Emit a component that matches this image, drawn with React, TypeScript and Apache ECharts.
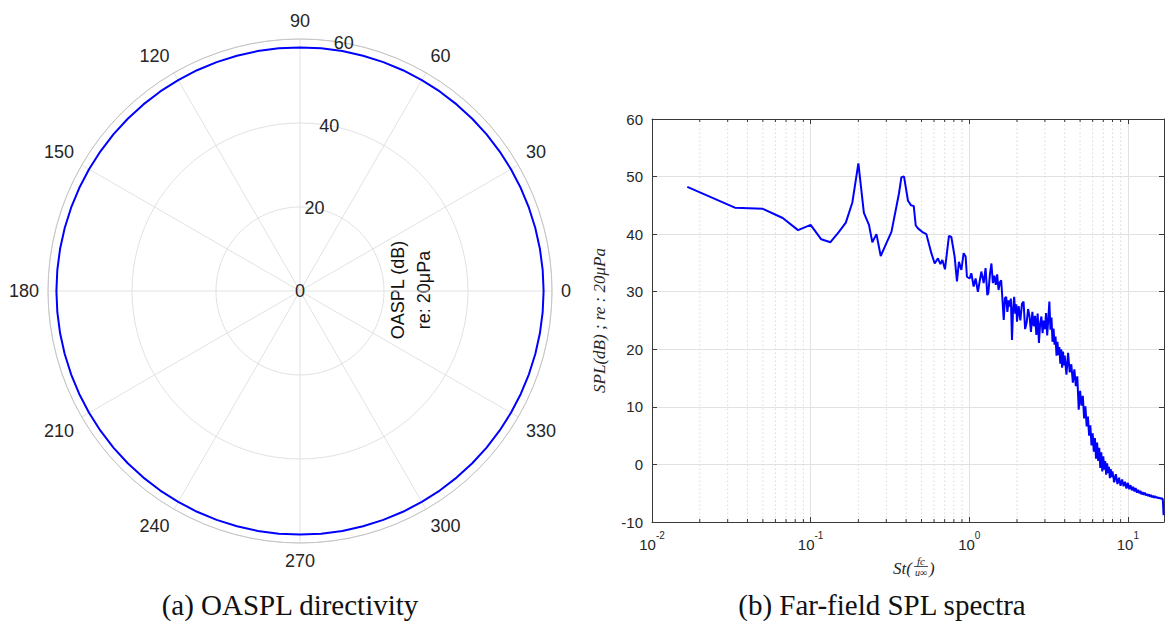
import React, { useEffect, useRef } from 'react';
import * as echarts from 'echarts';

// ---------- (a) OASPL directivity ----------
const polarAngles = [
  0, 5, 10, 15, 20, 25, 30, 35, 40, 45, 50, 55, 60, 65, 70, 75, 80, 85, 90,
  95, 100, 105, 110, 115, 120, 125, 130, 135, 140, 145, 150, 155, 160, 165, 170, 175, 180,
  185, 190, 195, 200, 205, 210, 215, 220, 225, 230, 235, 240, 245, 250, 255, 260, 265, 270,
  275, 280, 285, 290, 295, 300, 305, 310, 315, 320, 325, 330, 335, 340, 345, 350, 355, 360,
];
const oasplValues = [
  58.0, 58.0, 58.0, 58.0, 58.0, 58.0, 58.0, 58.0, 58.0, 58.0, 58.0, 58.0, 58.0, 58.0, 58.0, 58.0, 58.0, 58.0, 58.0,
  58.0, 58.0, 58.0, 58.0, 58.0, 58.0, 58.0, 58.0, 58.0, 58.0, 58.0, 58.0, 58.0, 58.0, 58.0, 58.0, 58.0, 58.0,
  58.0, 58.0, 58.0, 58.0, 58.0, 58.0, 58.0, 58.0, 58.0, 58.0, 58.0, 58.0, 58.0, 58.0, 58.0, 58.0, 58.0, 58.0,
  58.0, 58.0, 58.0, 58.0, 58.0, 58.0, 58.0, 58.0, 58.0, 58.0, 58.0, 58.0, 58.0, 58.0, 58.0, 58.0, 58.0, 58.0,
];

// ---------- (b) Far-field SPL spectra ----------
const spectrumLow: [number, number][] = [
  [0.0167, 48.2], [0.0333, 44.6], [0.05, 44.4], [0.0667, 42.8], [0.0833, 40.7], [0.1, 41.6],
  [0.1167, 39.1], [0.1333, 38.6], [0.15, 40.3], [0.1667, 42.0], [0.1833, 45.5], [0.2, 52.3],
  [0.2167, 43.7], [0.2333, 41.6], [0.245, 38.6], [0.26, 40.0], [0.2767, 36.2], [0.3, 38.4],
  [0.3233, 40.4], [0.3475, 44.8], [0.3608, 47.1], [0.3736, 49.9], [0.388, 50.0], [0.4111, 45.8],
  [0.43, 45.0], [0.4467, 44.9], [0.46, 41.5], [0.4753, 41.0], [0.511, 40.3], [0.5369, 40.0],
  [0.577, 36.7], [0.6056, 34.9], [0.635, 35.8], [0.658, 34.8], [0.677, 35.5], [0.703, 33.9],
  [0.745, 39.7], [0.771, 39.5], [0.809, 36.1], [0.8368, 31.8], [0.861, 35.2], [0.892, 33.8],
  [0.922, 36.7], [0.949, 36.1], [0.967, 32.6], [1.006, 32.3], [1.031, 33.2], [1.066, 30.9],
  [1.097, 32.3], [1.134, 30.0], [1.192, 33.5], [1.233, 31.5], [1.268, 34.1], [1.3, 29.4],
];
const spectrumMid: [number, number][] = [
  [1.32, 29.8], [1.35, 33.0], [1.38, 34.9], [1.41, 31.5], [1.44, 32.8], [1.47, 31.2], [1.5, 33.0],
  [1.53, 30.3], [1.56, 31.6], [1.59, 32.0], [1.62, 28.6], [1.65, 25.1], [1.68, 28.9], [1.71, 29.1],
  [1.74, 26.5], [1.77, 28.5], [1.8, 27.4], [1.83, 28.8], [1.86, 21.6], [1.89, 27.0], [1.92, 29.1],
  [1.95, 26.2], [1.98, 27.8],
  [2.0, 24.8], [2.05, 27.5], [2.1, 25.0], [2.15, 27.9], [2.2, 28.3], [2.25, 23.5], [2.3, 24.6],
  [2.35, 27.0], [2.4, 25.7], [2.45, 23.0], [2.5, 26.5], [2.55, 24.0], [2.6, 25.8], [2.65, 22.5],
  [2.7, 26.2], [2.75, 21.1], [2.8, 24.5], [2.85, 25.7], [2.9, 22.8], [2.95, 25.0], [3.0, 23.5],
  [3.05, 26.3], [3.1, 22.4], [3.15, 25.2], [3.2, 28.3], [3.25, 23.4], [3.3, 25.5], [3.35, 21.3],
  [3.4, 23.6], [3.45, 20.8], [3.5, 22.2], [3.55, 18.9], [3.6, 21.3], [3.65, 19.0], [3.7, 20.4],
  [3.75, 17.5], [3.8, 20.0], [3.85, 16.8], [3.9, 19.6], [3.95, 17.2], [4.0, 18.9],
];
const spectrumHigh: [number, number][] = [
  [4.1, 15.6], [4.2, 19.4], [4.3, 16.0], [4.4, 17.4], [4.5, 14.2], [4.6, 16.5], [4.7, 13.6],
  [4.8, 15.3], [4.9, 9.5], [5.0, 12.8], [5.1, 10.2], [5.2, 11.9], [5.3, 8.0], [5.4, 10.1],
  [5.5, 6.6], [5.6, 8.3], [5.7, 5.0], [5.8, 6.8], [5.9, 3.3], [6.0, 5.4], [6.1, 2.2], [6.2, 4.6],
  [6.3, 1.0], [6.4, 3.8], [6.5, 0.6], [6.6, 2.9], [6.7, -0.6], [6.8, 2.1], [6.9, -1.2], [7.0, 1.4],
  [7.1, -0.9], [7.2, 0.6], [7.3, -1.8], [7.4, 0.2], [7.5, -1.5], [7.6, -0.4], [7.7, -2.4],
  [7.8, -0.8], [7.9, -2.2], [8.0, -1.2],
  [8.2, -3.1], [8.4, -1.7], [8.6, -3.4], [8.8, -2.3], [9.0, -3.7], [9.2, -2.6], [9.4, -3.8],
  [9.6, -3.0], [9.8, -4.2], [10.0, -3.2], [10.2, -4.3], [10.4, -3.6], [10.6, -4.5], [10.8, -3.9],
  [11.0, -4.7], [11.2, -4.1], [11.4, -4.9], [11.6, -4.4], [11.8, -5.0], [12.0, -4.6], [12.2, -5.2],
  [12.4, -4.8], [12.6, -5.3], [12.8, -4.9], [13.0, -5.4], [13.2, -5.1], [13.4, -5.5], [13.6, -5.2],
  [13.8, -5.6], [14.0, -5.3], [14.2, -5.7], [14.4, -5.4], [14.6, -5.8], [14.8, -5.5], [15.0, -5.8],
  [15.2, -5.6], [15.4, -5.9], [15.6, -5.7], [15.8, -5.9], [16.0, -5.8], [16.2, -6.0], [16.4, -5.9],
  [16.6, -6.0], [16.8, -8.8],
];
const minorTickValues = [
  0.02, 0.03, 0.04, 0.05, 0.06, 0.07, 0.08, 0.09,
  0.2, 0.3, 0.4, 0.5, 0.6, 0.7, 0.8, 0.9,
  2, 3, 4, 5, 6, 7, 8, 9,
];

const AXIS = '#3a3a3a';
const TXT = '#262626';
const GRID = '#e2e2e2';
const BLUE = '#0000ff';
const SANS = 'Liberation Sans';
const SERIF = 'Liberation Serif';

export default function App() {
  const ref = useRef<HTMLDivElement>(null);
  useEffect(() => {
    if (!ref.current) return;
    const chart = echarts.init(ref.current, undefined, { renderer: 'svg' });
    const spectrum = [...spectrumLow, ...spectrumMid, ...spectrumHigh];
    const xLabel = (v: number) => {
      const l = Math.log10(v);
      if (Math.abs(l - Math.round(l)) > 1e-6) return '';
      return '{b|10}{s|' + Math.round(l) + '}';
    };
    const option: any = {
      animation: false,
      textStyle: { fontFamily: SANS },
      polar: [
        { center: [300, 291], radius: 252 },
        { center: [300, 291], radius: 252 },
      ],
      angleAxis: [
        {
          polarIndex: 0, type: 'value', min: 0, max: 360, interval: 30, startAngle: 0, clockwise: false,
          axisLine: { lineStyle: { color: '#c4c4c4', width: 1 } },
          axisTick: { show: false },
          axisLabel: {
            fontSize: 18, color: TXT, margin: 9, fontFamily: SANS,
            formatter: (v: number) => (v >= 360 ? '' : String(v)),
          },
          splitLine: { show: true, lineStyle: { color: GRID, width: 1 } },
        },
        {
          polarIndex: 1, type: 'value', min: 0, max: 360, startAngle: 80, clockwise: false,
          axisLine: { show: false }, axisTick: { show: false }, axisLabel: { show: false },
          splitLine: { show: false },
        },
      ],
      radiusAxis: [
        {
          polarIndex: 0, type: 'value', min: 0, max: 60, interval: 20,
          axisLine: { show: false }, axisTick: { show: false }, axisLabel: { show: false },
          splitLine: { show: true, lineStyle: { color: GRID, width: 1 } },
        },
        {
          polarIndex: 1, type: 'value', min: 0, max: 60, interval: 20,
          axisLine: { show: false }, axisTick: { show: false },
          axisLabel: {
            show: true, fontSize: 18, color: TXT, margin: 0, rotate: 0,
            align: 'center', verticalAlign: 'middle', fontFamily: SANS,
          },
          splitLine: { show: false },
        },
      ],
      grid: {
        left: 652, right: 2, top: 119, bottom: 108, containLabel: false, outerBoundsMode: 'none',
      },
      xAxis: [
        {
          type: 'log', logBase: 10, min: 0.01, max: 16.9, position: 'bottom', gridIndex: 0,
          axisLine: { show: true, onZero: false, lineStyle: { color: AXIS, width: 1 } },
          axisTick: { show: true, inside: true, length: 5, lineStyle: { color: AXIS } },
          axisLabel: {
            margin: 8, color: TXT, formatter: xLabel,
            rich: {
              b: { fontSize: 15, color: TXT, fontFamily: SANS, verticalAlign: 'bottom', lineHeight: 22 },
              s: { fontSize: 10, color: TXT, fontFamily: SANS, verticalAlign: 'top', lineHeight: 22 },
            },
          },
          splitLine: { show: true, lineStyle: { color: GRID, width: 1 } },
        },
        {
          type: 'log', logBase: 10, min: 0.01, max: 16.9, position: 'top', gridIndex: 0,
          axisLine: { show: true, onZero: false, lineStyle: { color: AXIS, width: 1 } },
          axisTick: { show: true, inside: true, length: 5, lineStyle: { color: AXIS } },
          axisLabel: { show: false },
          splitLine: { show: false },
        },
      ],
      yAxis: [
        {
          type: 'value', min: -10, max: 60, interval: 10, position: 'left', gridIndex: 0,
          axisLine: { show: true, onZero: false, lineStyle: { color: AXIS, width: 1 } },
          axisTick: { show: true, inside: true, length: 5, lineStyle: { color: AXIS } },
          axisLabel: { fontSize: 15, color: TXT, margin: 9, fontFamily: SANS },
          splitLine: { show: true, lineStyle: { color: GRID, width: 1 } },
          name: 'SPL(dB) ; re : 20μPa',
          nameLocation: 'middle',
          nameGap: 44,
          nameTextStyle: { fontFamily: SERIF, fontStyle: 'italic', fontSize: 17, color: TXT },
        },
        {
          type: 'value', min: -10, max: 60, interval: 10, position: 'right', gridIndex: 0,
          axisLine: { show: true, onZero: false, lineStyle: { color: AXIS, width: 1 } },
          axisTick: { show: true, inside: true, length: 5, lineStyle: { color: AXIS } },
          axisLabel: { show: false },
          splitLine: { show: false },
        },
      ],
      series: [
        {
          type: 'line', coordinateSystem: 'polar', polarIndex: 0,
          data: polarAngles.map((a, i) => [oasplValues[i], a]),
          showSymbol: false, symbol: 'none',
          lineStyle: { color: BLUE, width: 2 }, z: 5,
        },
        {
          type: 'custom', xAxisIndex: 0, yAxisIndex: 0, silent: true, z: 1,
          data: minorTickValues.map((v) => [v, 0]),
          encode: { x: 0, y: 1 },
          renderItem: (_p: any, api: any) => {
            const v = api.value(0);
            const b = api.coord([v, -10]);
            const t = api.coord([v, 60]);
            return {
              type: 'group',
              children: [
                { type: 'line', shape: { x1: b[0], y1: b[1], x2: t[0], y2: t[1] },
                  style: { stroke: '#dadada', lineWidth: 1, lineDash: [1.5, 2.5] } },
                { type: 'line', shape: { x1: b[0], y1: b[1], x2: b[0], y2: b[1] - 3 },
                  style: { stroke: AXIS, lineWidth: 1 } },
                { type: 'line', shape: { x1: t[0], y1: t[1], x2: t[0], y2: t[1] + 3 },
                  style: { stroke: AXIS, lineWidth: 1 } },
              ],
            };
          },
        },
        {
          type: 'line', xAxisIndex: 0, yAxisIndex: 0,
          data: spectrum, showSymbol: false, symbol: 'none', clip: true,
          lineStyle: { color: BLUE, width: 2 }, z: 5,
        },
      ],
      graphic: [
        {
          type: 'text', x: 411, y: 290, rotation: Math.PI / 2,
          style: {
            text: 'OASPL (dB)\nre: 20μPa', fill: '#111', font: '18px "Liberation Sans"',
            textAlign: 'center', textVerticalAlign: 'middle', lineHeight: 26,
          },
        },
        {
          type: 'text', x: 290, y: 605,
          style: { text: '(a) OASPL directivity', fill: '#111', font: '29px "Liberation Serif"',
            textAlign: 'center', textVerticalAlign: 'middle' },
        },
        {
          type: 'text', x: 882, y: 605,
          style: { text: '(b) Far-field SPL spectra', fill: '#111', font: '29px "Liberation Serif"',
            textAlign: 'center', textVerticalAlign: 'middle' },
        },
        {
          type: 'text', x: 912, y: 568,
          style: { text: 'St(', fill: TXT, font: 'italic 17px "Liberation Serif"',
            textAlign: 'right', textVerticalAlign: 'middle' },
        },
        {
          type: 'text', x: 921, y: 561,
          style: { text: 'fc', fill: TXT, font: 'italic 11px "Liberation Serif"',
            textAlign: 'center', textVerticalAlign: 'middle' },
        },
        {
          type: 'line', shape: { x1: 914, y1: 566.5, x2: 928, y2: 566.5 },
          style: { stroke: TXT, lineWidth: 0.8 },
        },
        {
          type: 'text', x: 921, y: 572.5,
          style: { text: 'u∞', fill: TXT, font: 'italic 10px "Liberation Serif"',
            textAlign: 'center', textVerticalAlign: 'middle' },
        },
        {
          type: 'text', x: 929, y: 568,
          style: { text: ')', fill: TXT, font: 'italic 17px "Liberation Serif"',
            textAlign: 'left', textVerticalAlign: 'middle' },
        },
      ],
    };
    chart.setOption(option);
    return () => chart.dispose();
  }, []);
  return (
    <div
      ref={ref}
      style={{ position: 'fixed', left: 0, top: 0, width: 1166, height: 630, background: '#fff' }}
    />
  );
}
